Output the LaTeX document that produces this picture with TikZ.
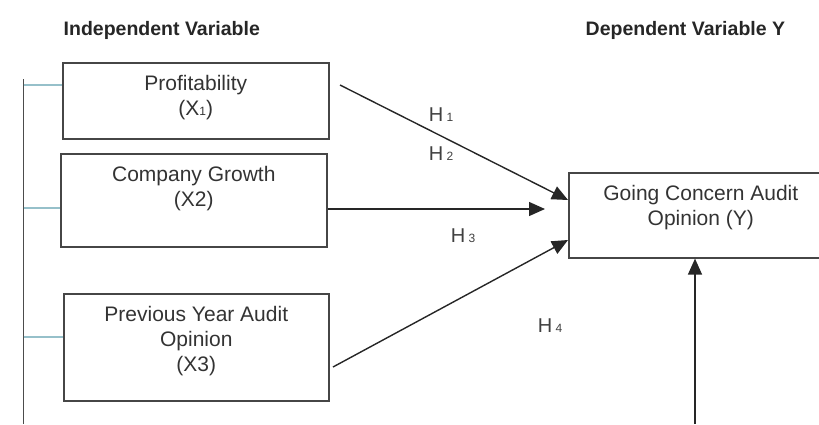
\documentclass[tikz,border=0pt]{standalone}
\usepackage{fontspec}
\setmainfont{Liberation Sans}
\usetikzlibrary{positioning,calc,arrows.meta}
\definecolor{boxgray}{RGB}{70,70,70}
\definecolor{tealgray}{RGB}{150,192,202}
\newcommand{\vartext}[3]{\parbox[t][#1][t]{#2}{\centering\rule{0pt}{28pt}#3}}
\newcommand{\subdigit}[1]{{\fontsize{12}{12}\selectfont #1}}

\begin{document}
\begin{tikzpicture}[x=1pt, y=-1pt, >={Triangle[length=16pt,width=14pt]}, line width=1.4pt]
\tikzset{
	varbox/.style = {draw=boxgray, line width=1.6pt, inner sep=0pt, anchor=north west,
		font=\fontsize{21}{25}\selectfont, text=black!80},
	headline/.style = {anchor=base west, inner sep=0pt, font=\fontsize{19.5}{23}\selectfont\bfseries, text=black!85},
	hlabel/.style = {inner sep=0pt, font=\fontsize{20}{23}\selectfont, text=black!75},
	linkarrow/.style = {->, draw=black!85},
	tealline/.style = {draw=tealgray, line width=1.2pt}
}
\useasboundingbox (0,0) rectangle (819,424);

% headings
\node [headline] (indep) at (63,35) {Independent Variable};
\node [headline] (dep) at (585,35) {Dependent Variable Y};

% variable boxes
\node [varbox] (prof) at (62,62) {\vartext{76pt}{266pt}{Profitability\\(X\subdigit{1})}};
\node [varbox] (growth) at (60,153) {\vartext{93pt}{266pt}{Company Growth\\(X2)}};
\node [varbox] (prev) at (63,293) {\vartext{107pt}{265pt}{Previous Year Audit\\Opinion\\(X3)}};
\node [varbox] (gc) at (568,172) {\vartext{85pt}{264pt}{Going Concern Audit\\Opinion (Y)}};

% left bracket
\coordinate (ltop) at (23.5,79);
\coordinate (lbot) at (23.5,424);
\draw [draw=black!70] (ltop) -- (lbot);
\coordinate (t1) at ($(prof.north west)+(0,23)$);
\coordinate (t2) at ($(growth.north west)+(0,55)$);
\coordinate (t3) at ($(prev.north west)+(0,44)$);
\foreach \t in {t1,t2,t3}
	\draw [tealline] (\t -| ltop) -- (\t);

% hypotheses
\coordinate (s1) at (340,85);
\coordinate (s3) at (333,367);
\coordinate (s4) at (695,424);
\draw [linkarrow] (s1) -- ($(gc.north west)+(0,28)$);
\draw [linkarrow] ($(growth.north east)+(0,56)$) -- ($(gc.north west)+(-23,37)$);
\draw [linkarrow] (s3) -- ($(gc.north west)+(0,68)$);
\draw [linkarrow] (s4) -- (s4 |- gc.south);

\node [hlabel] (h1) at (441,115) {H\,\subdigit{1}};
\node [hlabel] (h2) at (441,154) {H\,\subdigit{2}};
\node [hlabel] (h3) at (463,236) {H\,\subdigit{3}};
\node [hlabel] (h4) at (550,326) {H\,\subdigit{4}};
\end{tikzpicture}
\end{document}
